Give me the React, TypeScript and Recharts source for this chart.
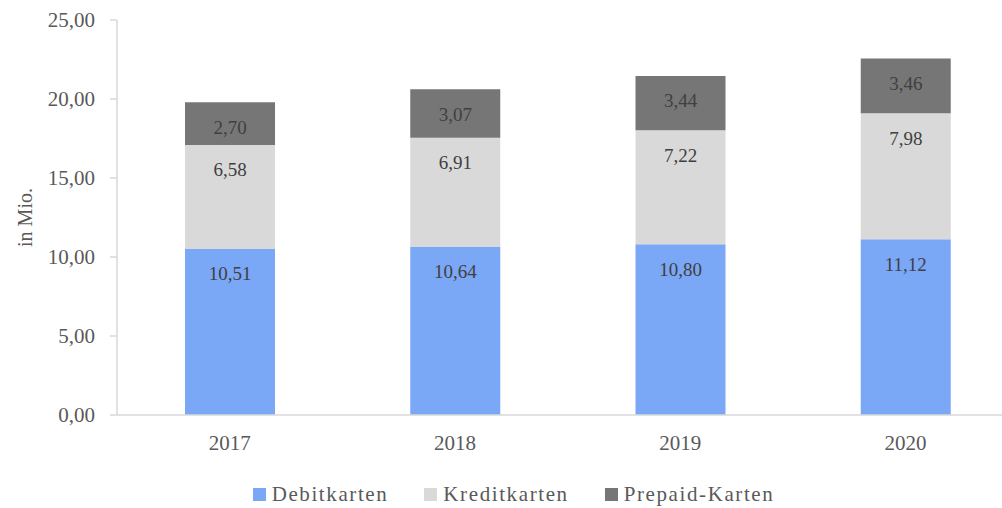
import React from 'react';
import { BarChart, Bar, XAxis, YAxis, LabelList } from 'recharts';

const years = ['2017', '2018', '2019', '2020'];
const debitkarten = [10.51, 10.64, 10.8, 11.12];
const kreditkarten = [6.58, 6.91, 7.22, 7.98];
const prepaidKarten = [2.7, 3.07, 3.44, 3.46];
const yTicks = [0, 5, 10, 15, 20, 25];

const seriesNames = ['Debitkarten', 'Kreditkarten', 'Prepaid-Karten'];
const colors = ['#7BA7F7', '#D9D9D9', '#767676'];

const data = years.map((y, i) => ({
  year: y,
  debit: debitkarten[i],
  kredit: kreditkarten[i],
  prepaid: prepaidKarten[i],
}));

const FONT = '"Liberation Serif", serif';
const fmt = (v: any) => Number(v).toFixed(2).replace('.', ',');

const YLabel = (props: any) => {
  const vb = props.viewBox || {};
  const cx = 25;
  const cy = vb.y + vb.height / 2;
  return (
    <text
      x={cx}
      y={cy}
      transform={`rotate(-90, ${cx}, ${cy})`}
      textAnchor="middle"
      dominantBaseline="central"
      fill="#595959"
      fontSize={20}
      fontFamily={FONT}
    >
      in Mio.
    </text>
  );
};

const LegendBox = () => (
  <div
    style={{
      position: 'absolute',
      left: 0,
      top: 482,
      width: 1002,
      display: 'flex',
      justifyContent: 'center',
      alignItems: 'center',
      gap: 36,
      fontFamily: FONT,
      fontSize: 21,
      letterSpacing: 1.6,
      color: '#595959',
      paddingLeft: 25,
      boxSizing: 'border-box',
    }}
  >
    {seriesNames.map((n, i) => (
      <div key={n} style={{ display: 'flex', alignItems: 'center' }}>
        <span style={{ width: 13, height: 13, background: colors[i], display: 'inline-block', marginRight: 6 }} />
        <span>{n}</span>
      </div>
    ))}
  </div>
);

const labelProps = { position: 'insideTop' as const, offset: 18, formatter: fmt, fill: '#404040', fontSize: 19, fontFamily: FONT };

export default function App() {
  return (
    <div style={{ position: 'absolute', left: 0, top: 0, width: 1002, height: 508, overflow: 'hidden', background: '#fff' }}>
      <BarChart
        width={1018}
        height={508}
        data={data}
        margin={{ top: 20, right: 0, bottom: 0, left: 0 }}
        barCategoryGap={0}
      >
        <XAxis
          dataKey="year"
          tickLine={false}
          axisLine={{ stroke: '#D9D9D9', strokeWidth: 1.5 }}
          tick={{ fill: '#595959', fontSize: 21, fontFamily: FONT }}
          tickMargin={14}
          height={93}
        />
        <YAxis
          width={117}
          domain={[0, 25]}
          ticks={yTicks}
          interval={0}
          tickFormatter={fmt}
          tickSize={7}
          tickMargin={15}
          axisLine={{ stroke: '#D9D9D9', strokeWidth: 1.5 }}
          tickLine={{ stroke: '#D9D9D9', strokeWidth: 1.5 }}
          tick={{ fill: '#595959', fontSize: 21, fontFamily: FONT }}
          label={<YLabel />}
        />
        <Bar dataKey="debit" name={seriesNames[0]} stackId="a" fill={colors[0]} barSize={90} isAnimationActive={false}>
          <LabelList dataKey="debit" {...labelProps} />
        </Bar>
        <Bar dataKey="kredit" name={seriesNames[1]} stackId="a" fill={colors[1]} barSize={90} isAnimationActive={false}>
          <LabelList dataKey="kredit" {...labelProps} />
        </Bar>
        <Bar dataKey="prepaid" name={seriesNames[2]} stackId="a" fill={colors[2]} barSize={90} isAnimationActive={false}>
          <LabelList dataKey="prepaid" {...labelProps} />
        </Bar>
      </BarChart>
      <LegendBox />
    </div>
  );
}
